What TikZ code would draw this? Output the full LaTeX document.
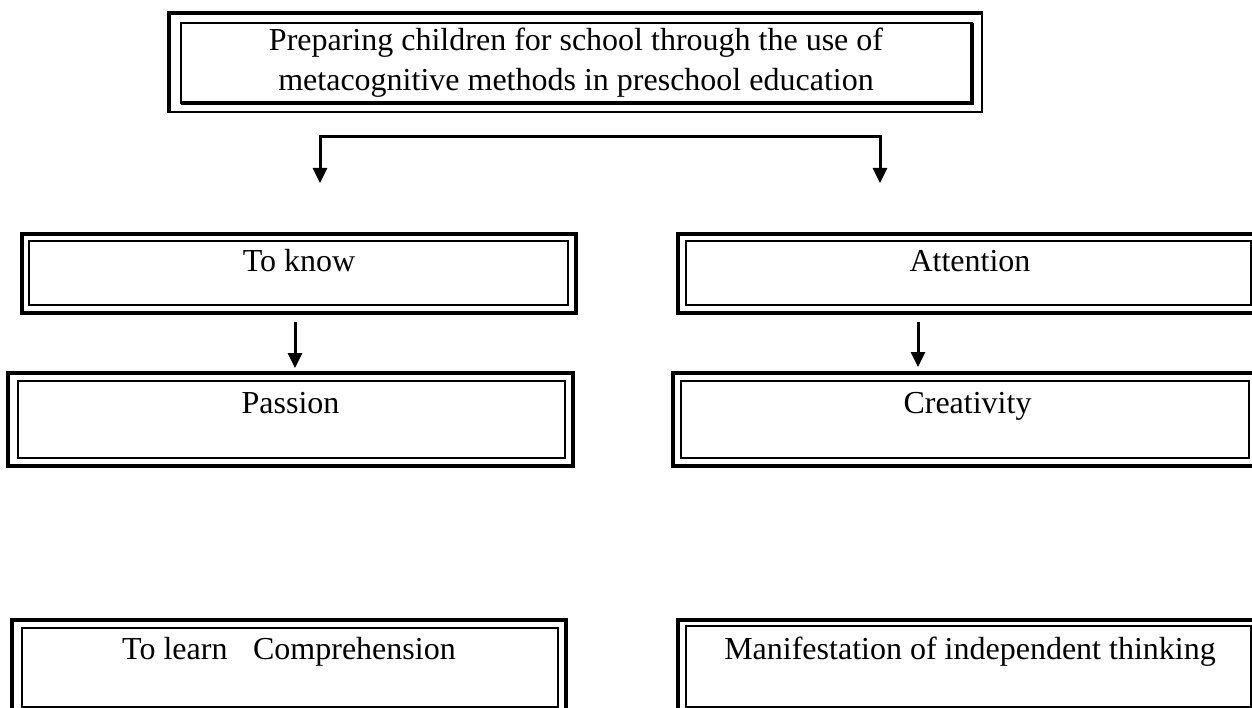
\documentclass[tikz,border=0pt]{standalone}
\usepackage{fontspec}
\setmainfont{Liberation Serif}
\usetikzlibrary{arrows.meta}
\newcommand{\boxfont}{\fontsize{32}{40}\selectfont}
\begin{document}
\begin{tikzpicture}[x=1pt,y=-1pt,
  outerbox/.style={draw, line width=3.8pt, inner sep=0pt, font=\boxfont, line join=miter},
  innerline/.style={line width=1.7pt},
  conn/.style={line width=3pt, line join=miter, -{Triangle[length=15pt,width=14pt]}},
  connboth/.style={line width=3pt, line join=miter, {Triangle[length=15pt,width=14pt]}-{Triangle[length=15pt,width=14pt]}}
]
\useasboundingbox (0,0) rectangle (1252,708);
\clip (0,0) rectangle (1252,708);
\fill[white] (0,0) rectangle (1252,708);

% top box
\node[draw, line width=2pt, inner sep=0pt, font=\boxfont, align=center,
      minimum width=812pt, minimum height=98pt] (T) at (576,63)
  {Preparing children for school through the use of\\metacognitive methods in preschool education};
\draw[line width=3.4pt, line join=miter] (T.south west) -- (T.north west) -- (T.north east);
\coordinate (ti1) at ([shift={(12,10)}]T.north west);
\coordinate (ti2) at ([shift={(-11,-10)}]T.south east);
\draw[innerline] (ti1) rectangle (ti2);
\draw[line width=3.4pt, line join=miter] (ti1 -| ti2) -- (ti2) -- (ti1 |- ti2);

% connectors from the top
\coordinate (j1) at (320,137);
\coordinate (j2) at (880,137);
\coordinate (e1) at (320,183);
\coordinate (e2) at (880,183);
\draw[connboth] (e1) -- (j1) -- (j2) -- (e2);

% To know
\node[outerbox, minimum width=554pt, text height=38pt, text depth=41pt] (K) at (299,273.5) {To know};
\draw[innerline] ([shift={(9,9)}]K.north west) rectangle ([shift={(-10,-10)}]K.south east);
% Passion
\node[outerbox, minimum width=565pt, text height=40pt, text depth=53pt] (P) at (290.5,419.5) {Passion};
\draw[innerline] ([shift={(12,10)}]P.north west) rectangle ([shift={(-10,-10)}]P.south east);
% To learn Comprehension
\node[outerbox, minimum width=554pt, text height=39pt, text depth=55pt] (L) at (289,667) {To learn\hspace{0.55em} Comprehension};
\draw[innerline] ([shift={(12,10)}]L.north west) rectangle ([shift={(-10,-9)}]L.south east);

% Attention
\node[outerbox, minimum width=584pt, text height=38pt, text depth=41pt] (A) at (970,273.5) {Attention};
\draw[innerline] ([shift={(10,9)}]A.north west) rectangle ([shift={(-13,-10)}]A.south east);
% Creativity
\node[outerbox, minimum width=589pt, text height=40pt, text depth=53pt] (C) at (967.5,419.5) {Creativity};
\draw[innerline] ([shift={(10,10)}]C.north west) rectangle ([shift={(-15,-10)}]C.south east);
% Manifestation
\node[outerbox, minimum width=584pt, text height=39pt, text depth=55pt] (M) at (970,667) {Manifestation of independent thinking};
\draw[innerline] ([shift={(10,8)}]M.north west) rectangle ([shift={(-13,-9)}]M.south east);

% arrows between boxes
\coordinate (k1) at (295,322);
\coordinate (k2) at (295,368);
\draw[conn] (k1) -- (k2);
\coordinate (a1) at (918,322);
\coordinate (a2) at (918,367);
\draw[conn] (a1) -- (a2);
\end{tikzpicture}
\end{document}
